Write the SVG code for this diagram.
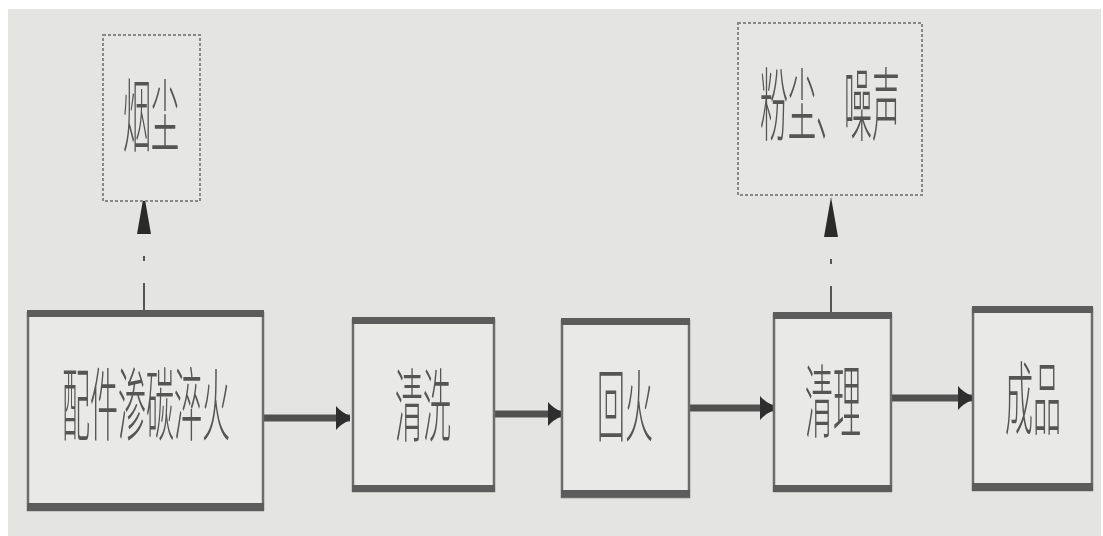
<svg xmlns="http://www.w3.org/2000/svg" width="1103" height="536" viewBox="0 0 1103 536">
  <defs>
    <style>
      .frame { fill: #e9eae8; stroke: #6c6c6c; stroke-width: 2.5; }
      .bar { fill: #5c5c5c; }
      .note { fill: #e6e7e5; stroke: #888; stroke-width: 2; stroke-dasharray: 3 2; }
      .label { font-family: "Noto Sans CJK SC", "Noto Sans", sans-serif; font-size: 80px; font-weight: 300; fill: #555; text-anchor: middle; dominant-baseline: central; filter: url(#ink); }
      .flow { stroke: #505050; stroke-width: 7; fill: none; }
      .emit { stroke: #555; stroke-width: 2; fill: none; stroke-dasharray: 27 22 5 200; }
    </style>
    <!-- slight softening keeps the condensed glyphs in plain grayscale -->
    <filter id="ink" x="-5%" y="-5%" width="110%" height="110%">
      <feGaussianBlur stdDeviation="0.35"/>
    </filter>
    <marker id="head" markerUnits="userSpaceOnUse" markerWidth="18" markerHeight="28" refX="15" refY="14" orient="auto">
      <path d="M1 2 Q6 8 15 12 L15 16 Q6 20 1 26 Z" fill="#2e2e2e"/>
    </marker>
    <marker id="spike" markerUnits="userSpaceOnUse" markerWidth="42" markerHeight="16" refX="40" refY="8" orient="auto">
      <path d="M0 1 L40 8 L0 15 Z" fill="#2a2a2a"/>
    </marker>
  </defs>

  <!-- paper -->
  <rect x="0" y="0" width="1103" height="536" fill="#ffffff"/>
  <rect x="8" y="9" width="1093" height="527" fill="#e4e5e3"/>

  <!-- connectors -->
  <g id="connectors">
    <path class="flow" d="M263 418 H350" marker-end="url(#head)"/>
    <path class="flow" d="M494 414 H562" marker-end="url(#head)"/>
    <path class="flow" d="M689 408 H774" marker-end="url(#head)"/>
    <path class="flow" d="M891 398 H972" marker-end="url(#head)"/>
    <path class="emit" d="M144 310 V233"/>
    <path d="M144 236 V194" stroke="none" marker-end="url(#spike)"/>
    <path class="emit" d="M831 313 V239"/>
    <path d="M831 240 V197" stroke="none" marker-end="url(#spike)"/>
  </g>

  <!-- emission notes -->
  <g id="smoke">
    <rect class="note" x="103" y="35" width="97" height="166"/>
    <text class="label" transform="translate(151 110) scale(0.35 1)">烟尘</text>
  </g>
  <g id="dust-noise">
    <rect class="note" x="738" y="23" width="184" height="172"/>
    <text class="label" transform="translate(830 99) scale(0.35 1)">粉尘、噪声</text>
  </g>

  <!-- process steps -->
  <g id="carburize">
    <rect class="frame" x="28" y="313" width="235" height="197"/>
    <rect class="bar" x="27" y="310" width="237" height="7"/>
    <rect class="bar" x="27" y="503" width="237" height="8"/>
    <text class="label" transform="translate(146 399) scale(0.35 1)">配件渗碳淬火</text>
  </g>
  <g id="wash">
    <rect class="frame" x="353" y="320" width="141" height="171"/>
    <rect class="bar" x="352" y="317" width="143" height="7"/>
    <rect class="bar" x="352" y="485" width="143" height="7"/>
    <text class="label" transform="translate(423 400) scale(0.35 1)">清洗</text>
  </g>
  <g id="temper">
    <rect class="frame" x="562" y="321" width="127" height="176"/>
    <rect class="bar" x="561" y="318" width="129" height="7"/>
    <rect class="bar" x="561" y="490" width="129" height="7"/>
    <text class="label" transform="translate(625 400) scale(0.35 1)">回火</text>
  </g>
  <g id="finish">
    <rect class="frame" x="774" y="315" width="117" height="176"/>
    <rect class="bar" x="773" y="312" width="119" height="7"/>
    <rect class="bar" x="773" y="485" width="119" height="7"/>
    <text class="label" transform="translate(833 396) scale(0.35 1)">清理</text>
  </g>
  <g id="product">
    <rect class="frame" x="973" y="309" width="119" height="181"/>
    <rect class="bar" x="972" y="306" width="121" height="7"/>
    <rect class="bar" x="972" y="483" width="121" height="8"/>
    <text class="label" transform="translate(1033 393) scale(0.35 1)">成品</text>
  </g>
</svg>
